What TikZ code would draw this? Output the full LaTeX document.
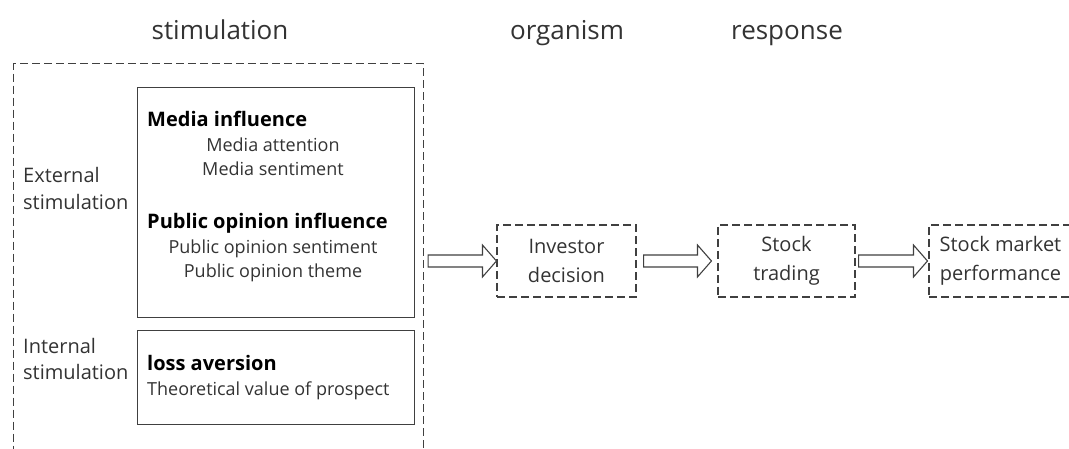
\documentclass[tikz,border=0pt]{standalone}
\usepackage{fontspec}
\setmainfont{Open Sans}
\usetikzlibrary{calc}
\definecolor{ln}{HTML}{404040}
\definecolor{tx}{HTML}{333333}
\newcommand\harrow[2]{\draw[barrow] let \p1=(#1), \p2=(#2) in
  (\x1,{\y1-6pt}) -- ({\x2-14pt},{\y1-6pt}) -- ({\x2-14pt},{\y1-16pt}) -- (\x2,\y1)
  -- ({\x2-14pt},{\y1+16pt}) -- ({\x2-14pt},{\y1+6pt}) -- (\x1,{\y1+6pt}) -- cycle;}
\begin{document}
\begin{tikzpicture}[x=1pt,y=-1pt,
  solidbox/.style={draw=ln,line width=1.2pt,inner sep=0pt,anchor=north west},
  dbox/.style={draw=ln,line width=1.1pt,dash pattern=on 8pt off 4pt,inner sep=0pt,
    text=tx,align=center,font=\fontsize{20}{29}\selectfont},
  barrow/.style={draw=ln,line width=1.1pt,fill=white,line join=miter},
  title/.style={anchor=base,text=tx,font=\fontsize{26}{30}\selectfont},
  side/.style={anchor=base west,text=tx,inner sep=0pt,font=\fontsize{20}{24}\selectfont},
  head/.style={anchor=base west,inner sep=0pt,font=\fontsize{20}{24}\selectfont\bfseries},
  body/.style={anchor=base,text=tx,inner sep=0pt,font=\fontsize{18}{22}\selectfont}]
\useasboundingbox (0,0) rectangle (1069,449);
\clip (0,0) rectangle (1069,449);
% titles
\node[title] (t1) at (220,40) {stimulation};
\node[title] (t2) at (567,40) {organism};
\node[title] (t3) at (787,40) {response};
% outer dashed box (open at bottom)
\node[dbox,anchor=north west,minimum width=410pt,minimum height=430pt] (outer) at (13,63) {};
% inner boxes
\node[solidbox,minimum width=277pt,minimum height=230pt] (b1) at (137,87) {};
\node[solidbox,minimum width=277pt,minimum height=94pt] (b2) at (137,330) {};
% side labels
\node[side] (ext1) at (23,183) {External};
\node[side] (ext2) at (23,210) {stimulation};
\node[side] (int1) at (23,353) {Internal};
\node[side] (int2) at (23,379) {stimulation};
% box 1 text
\node[head] (h1) at (147,127) {Media influence};
\node[body] (m1) at (273,152) {Media attention};
\node[body] (m2) at (273,176) {Media sentiment};
\node[head] (h2) at (147,229) {Public opinion influence};
\node[body] (p1) at (273,254) {Public opinion sentiment};
\node[body] (p2) at (273,278) {Public opinion theme};
% box 2 text
\node[head] (h3) at (147,370) {loss aversion};
\node[body,anchor=base west] (l1) at (147,395) {Theoretical value of prospect};
% process boxes
\node[dbox,minimum width=139pt,minimum height=72pt] (inv) at (566.5,261) {Investor\\decision};
\node[dbox,minimum width=137pt,minimum height=72pt] (trd) at (786.5,261) {Stock\\trading};
\node[dbox,minimum width=143pt,minimum height=72pt] (smp) at (1000.5,261) {Stock market\\performance};
% arrows
\harrow{$(outer.east|-inv.west)+(4,0)$}{inv.west}
\harrow{$(inv.east)+(7,0)$}{$(trd.west)+(-6,0)$}
\harrow{$(trd.east)+(3,0)$}{$(smp.west)+(-1,0)$}
\end{tikzpicture}
\end{document}
